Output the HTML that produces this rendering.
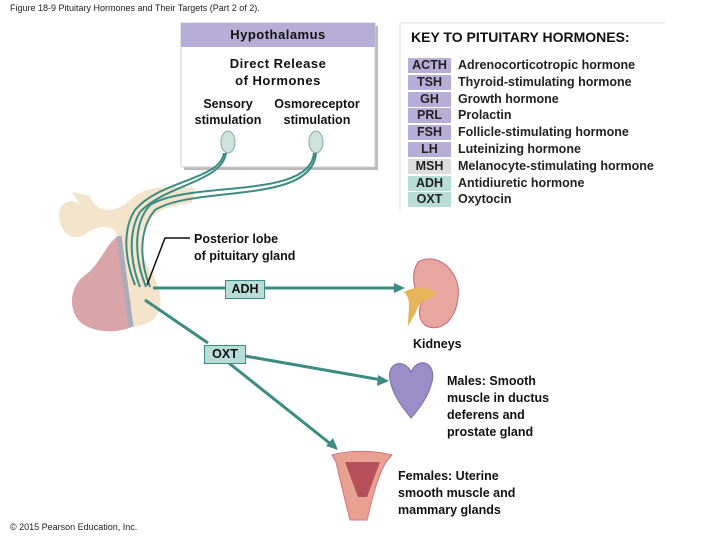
<!DOCTYPE html>
<html><head><meta charset="utf-8"><style>
body{margin:0;width:720px;height:540px;background:#fff;position:relative;overflow:hidden;font-family:"Liberation Sans",Arial,sans-serif;}
.t{position:absolute;font-weight:bold;color:#111;white-space:nowrap;}
.k{position:absolute;left:408px;width:43px;height:15px;font-size:12.5px;font-weight:bold;text-align:center;line-height:15px;color:#222;}
.d{position:absolute;left:458px;font-size:12.5px;font-weight:bold;line-height:15px;color:#222;}
</style></head><body>
<div style="position:absolute;left:10px;top:3px;font-size:9px;color:#222">Figure 18-9 Pituitary Hormones and Their Targets (Part 2 of 2).</div>

<svg width="720" height="540" style="position:absolute;left:0;top:0">
 <rect x="184" y="26" width="194" height="144" fill="#bbb"/>
 <rect x="181" y="23" width="194" height="144" fill="#fff" stroke="#ccc"/>
 <rect x="181" y="23" width="194" height="24" fill="#b6aed6"/>
 <line x1="400" y1="23" x2="665" y2="23" stroke="#ddd"/>
 <line x1="400" y1="23" x2="400" y2="210" stroke="#ddd"/>
 <!-- pituitary -->
 <path d="M60 222 C55 205 70 195 80 205 L72 192 L90 196 C95 212 115 215 130 200 C145 185 170 186 195 188 L192 203 C165 205 148 215 142 232 L118 236 C112 222 95 226 82 236 C70 240 62 232 60 222Z" fill="#f4e4cc"/>
 <path d="M142 228 C140 245 142 258 150 270 C158 282 162 295 160 307 C158 320 145 326 132 327 L120 236 Z" fill="#f4e4cc"/>
 <path d="M118 236 C105 245 100 265 84 276 C68 288 68 315 84 325 C100 334 120 332 132 327 Z" fill="#d9a5a9"/>
 <path d="M119 236 L131 327" stroke="#aab" stroke-width="5"/>
 <ellipse cx="228" cy="142" rx="7" ry="11" fill="#cfe3dc" stroke="#8aa" />
 <ellipse cx="316" cy="142" rx="7" ry="11" fill="#cfe3dc" stroke="#8aa" />
 <g fill="none" stroke="#3d8c84" stroke-width="2">
  <path d="M224 153 C220 180 160 180 135 210 C122 230 125 260 135 285"/>
  <path d="M226 153 C222 182 165 185 140 212 C128 232 130 262 140 287"/>
  <path d="M314 153 C310 200 190 180 150 205 C132 225 135 260 146 287"/>
  <path d="M316 153 C312 205 195 185 155 210 C138 230 140 262 150 287"/>
 </g>
 <path d="M190 238 L165 238 L147 285" fill="none" stroke="#111" stroke-width="1.5"/>
 <line x1="153" y1="288" x2="398" y2="288" stroke="#3d8c84" stroke-width="3"/>
 <polygon points="405,288 394,283 394,293" fill="#3d8c84"/>
 <line x1="145" y1="300" x2="208" y2="343" stroke="#3d8c84" stroke-width="3"/>
 <line x1="245" y1="356" x2="382" y2="380" stroke="#3d8c84" stroke-width="3"/>
 <polygon points="389,381 378,375 377,386" fill="#3d8c84"/>
 <line x1="225" y1="360" x2="332" y2="445" stroke="#3d8c84" stroke-width="3"/>
 <polygon points="338,450 326,446 333,438" fill="#3d8c84"/>
 <!-- kidney -->
 <path d="M418 262 C440 250 462 275 458 298 C455 322 440 332 426 326 C418 320 418 310 422 302 C414 292 410 275 418 262Z" fill="#e8a6a0" stroke="#c67" />
 <path d="M404 292 C415 286 428 286 436 293 C430 302 420 298 416 312 L408 326 C408 310 412 300 404 292Z" fill="#e6b55a"/>
 <!-- prostate -->
 <path d="M390 380 C386 362 405 358 411 372 C418 356 437 362 432 382 C428 398 418 410 411 418 C403 408 393 396 390 380Z" fill="#9b8ec8" stroke="#7a6fa8"/>
 <!-- uterus -->
 <path d="M332 455 C350 450 372 450 392 455 L386 462 C376 480 372 500 367 520 L350 520 C345 500 340 480 336 462Z" fill="#e8a090" stroke="#c78"/>
 <path d="M345 462 L380 462 L367 497 L358 497Z" fill="#b5505a"/>
</svg>

<div class="t" style="left:181px;top:27px;width:194px;text-align:center;font-size:13px;letter-spacing:0.5px">Hypothalamus</div>
<div class="t" style="left:181px;top:55px;width:194px;text-align:center;font-size:13px;line-height:17px;letter-spacing:0.5px">Direct Release<br>of Hormones</div>
<div class="t" style="left:190px;top:96px;width:76px;text-align:center;font-size:12.5px;line-height:16px">Sensory<br>stimulation</div>
<div class="t" style="left:267px;top:96px;width:100px;text-align:center;font-size:12.5px;line-height:16px">Osmoreceptor<br>stimulation</div>

<div class="t" style="left:411px;top:29px;font-size:14px">KEY TO PITUITARY HORMONES:</div>
<div class="k" style="top:58px;background:#b6aed6">ACTH</div><div class="d" style="top:58px">Adrenocorticotropic hormone</div>
<div class="k" style="top:75px;background:#b6aed6">TSH</div><div class="d" style="top:75px">Thyroid-stimulating hormone</div>
<div class="k" style="top:92px;background:#b6aed6">GH</div><div class="d" style="top:92px">Growth hormone</div>
<div class="k" style="top:108px;background:#b6aed6">PRL</div><div class="d" style="top:108px">Prolactin</div>
<div class="k" style="top:125px;background:#b6aed6">FSH</div><div class="d" style="top:125px">Follicle-stimulating hormone</div>
<div class="k" style="top:142px;background:#b6aed6">LH</div><div class="d" style="top:142px">Luteinizing hormone</div>
<div class="k" style="top:159px;background:#ddd">MSH</div><div class="d" style="top:159px">Melanocyte-stimulating hormone</div>
<div class="k" style="top:176px;background:#b8dcd6">ADH</div><div class="d" style="top:176px">Antidiuretic hormone</div>
<div class="k" style="top:192px;background:#b8dcd6">OXT</div><div class="d" style="top:192px">Oxytocin</div>

<div class="t" style="left:194px;top:231px;font-size:12.5px;line-height:17px">Posterior lobe<br>of pituitary gland</div>
<div class="t" style="left:225px;top:280px;width:38px;height:17px;background:#b8dcd6;border:1px solid #3d8c84;text-align:center;font-size:12.5px;line-height:17px">ADH</div>
<div class="t" style="left:204px;top:345px;width:40px;height:17px;background:#b8dcd6;border:1px solid #3d8c84;text-align:center;font-size:12.5px;line-height:17px">OXT</div>
<div class="t" style="left:413px;top:337px;font-size:12.5px">Kidneys</div>
<div class="t" style="left:447px;top:373px;font-size:12.5px;line-height:17px">Males: Smooth<br>muscle in ductus<br>deferens and<br>prostate gland</div>
<div class="t" style="left:398px;top:468px;font-size:12.5px;line-height:17px">Females: Uterine<br>smooth muscle and<br>mammary glands</div>
<div style="position:absolute;left:10px;top:522px;font-size:9px;color:#222">© 2015 Pearson Education, Inc.</div>
</body></html>
